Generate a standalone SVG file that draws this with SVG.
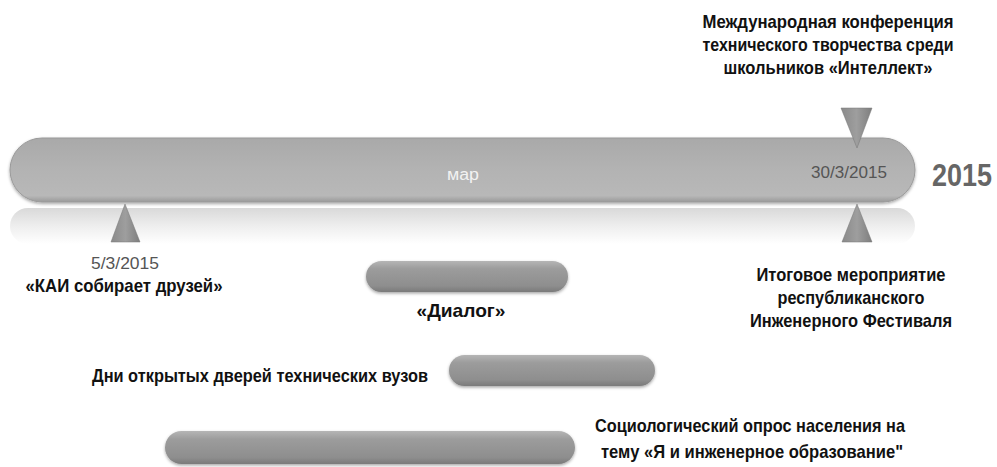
<svg xmlns="http://www.w3.org/2000/svg" width="997" height="467" viewBox="0 0 997 467">
<defs>
<linearGradient id="gMain" x1="0" y1="0" x2="0" y2="1">
<stop offset="0" stop-color="#a9a9a9"/>
<stop offset="0.5" stop-color="#b3b3b3"/>
<stop offset="0.9" stop-color="#b8b8b8"/>
<stop offset="1" stop-color="#9a9a9a"/>
</linearGradient>
<linearGradient id="gRefl" x1="0" y1="0" x2="0" y2="1">
<stop offset="0" stop-color="#d9d9d9"/>
<stop offset="0.5" stop-color="#eeeeee"/>
<stop offset="1" stop-color="#ffffff"/>
</linearGradient>
<linearGradient id="gBar" x1="0" y1="0" x2="0" y2="1">
<stop offset="0" stop-color="#b5b5b5"/>
<stop offset="0.25" stop-color="#9c9c9c"/>
<stop offset="0.8" stop-color="#8e8e8e"/>
<stop offset="1" stop-color="#7a7a7a"/>
</linearGradient>
<linearGradient id="gTri" x1="0" y1="0" x2="1" y2="0">
<stop offset="0" stop-color="#8a8a8a"/>
<stop offset="0.5" stop-color="#9e9e9e"/>
<stop offset="1" stop-color="#7e7e7e"/>
</linearGradient>
<filter id="sh" x="-10%" y="-30%" width="120%" height="160%">
<feDropShadow dx="0" dy="1.5" stdDeviation="1.5" flood-color="#000" flood-opacity="0.35"/>
</filter>
</defs>
<style>
.lbl{font-family:"Liberation Sans","DejaVu Sans",sans-serif;font-weight:bold;font-size:19px;fill:#111;text-anchor:middle}
.date{font-family:"Liberation Sans","DejaVu Sans",sans-serif;font-size:17px;fill:#555;text-anchor:middle}
.bar{fill:url(#gBar);filter:url(#sh)}
.tri{fill:url(#gTri);stroke:#777;stroke-width:0.5}
</style>

<g id="timeline">
<rect x="10" y="208" width="905" height="36" rx="18" fill="url(#gRefl)"/>
<rect x="10" y="138" width="905" height="64" rx="32" fill="url(#gMain)" stroke="#9a9a9a" stroke-width="1" filter="url(#sh)"/>
<text x="463" y="180" font-family="Liberation Sans, DejaVu Sans, sans-serif" font-size="16" fill="#f2f2f2" text-anchor="middle" textLength="32" lengthAdjust="spacingAndGlyphs">мар</text>
<text x="849" y="178" class="date" textLength="76" lengthAdjust="spacingAndGlyphs">30/3/2015</text>
<text x="962" y="186" font-family="Liberation Sans, DejaVu Sans, sans-serif" font-weight="bold" font-size="31" fill="#666" text-anchor="middle" textLength="60" lengthAdjust="spacingAndGlyphs">2015</text>
</g>

<g id="m1">
<polygon class="tri" points="125,204 111,242 140,242"/>
<text x="125" y="269" class="date" textLength="68" lengthAdjust="spacingAndGlyphs">5/3/2015</text>
<text x="124" y="292" class="lbl" textLength="197" lengthAdjust="spacingAndGlyphs">«КАИ собирает друзей»</text>
</g>

<g id="m2">
<polygon class="tri" points="841,108 872,108 857,148"/>
<text x="828" y="28" class="lbl" textLength="251" lengthAdjust="spacingAndGlyphs">Международная конференция</text>
<text x="828" y="51" class="lbl" textLength="251" lengthAdjust="spacingAndGlyphs">технического творчества среди</text>
<text x="828" y="74" class="lbl" textLength="209" lengthAdjust="spacingAndGlyphs">школьников «Интеллект»</text>
</g>

<g id="m3">
<polygon class="tri" points="857,204 842,242 872,242"/>
<text x="851" y="281" class="lbl" textLength="189" lengthAdjust="spacingAndGlyphs">Итоговое мероприятие</text>
<text x="851" y="304" class="lbl" textLength="147" lengthAdjust="spacingAndGlyphs">республиканского</text>
<text x="851" y="327" class="lbl" textLength="202" lengthAdjust="spacingAndGlyphs">Инженерного Фестиваля</text>
</g>

<g id="e1">
<rect class="bar" x="366" y="261" width="202" height="31" rx="15.5"/>
<text x="461" y="317" class="lbl" textLength="89" lengthAdjust="spacingAndGlyphs">«Диалог»</text>
</g>

<g id="e2">
<rect class="bar" x="449" y="355" width="206" height="31" rx="15.5"/>
<text x="260" y="382" class="lbl" textLength="336" lengthAdjust="spacingAndGlyphs">Дни открытых дверей технических вузов</text>
</g>

<g id="e3">
<rect class="bar" x="165" y="431" width="410" height="33" rx="16.5"/>
<text x="750" y="432" class="lbl" textLength="310" lengthAdjust="spacingAndGlyphs">Социологический опрос населения на</text>
<text x="752" y="458" class="lbl" textLength="302" lengthAdjust="spacingAndGlyphs">тему «Я и инженерное образование"</text>
</g>

<g id="connectors"></g>
</svg>
